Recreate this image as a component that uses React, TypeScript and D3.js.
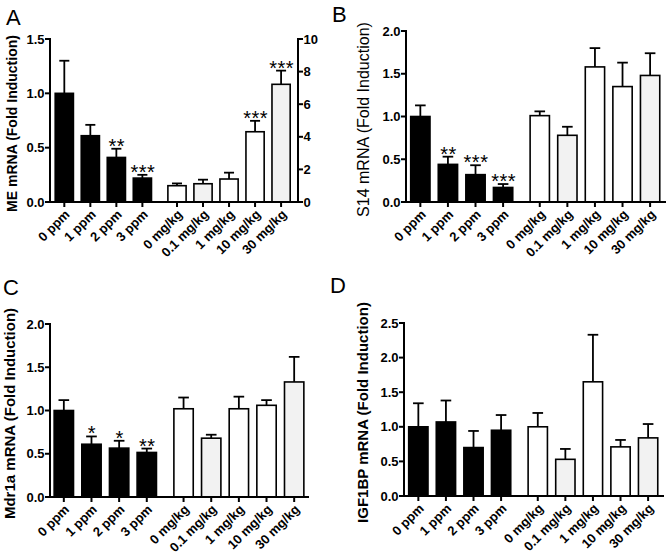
import React from "react";
import * as d3 from "d3";

const categories = ["0 ppm", "1 ppm", "2 ppm", "3 ppm", "0 mg/kg", "0.1 mg/kg", "1 mg/kg", "10 mg/kg", "30 mg/kg"];
const fillKinds = ["black", "black", "black", "black", "white", "gray", "white", "white", "gray"];

// Panel A (ppm on left axis, mg/kg on right axis)
const meMean = [1.0, 0.61, 0.41, 0.22, 1.0, 1.12, 1.41, 4.31, 7.22];
const meErr = [1.30, 0.71, 0.49, 0.25, 1.14, 1.37, 1.80, 4.98, 8.06];
const meStars = ["", "", "**", "***", "", "", "", "***", "***"];
const meLeftTicks = [0, 0.5, 1.0, 1.5];
const meRightTicks = [0, 2, 4, 6, 8, 10];

// Panel B
const s14Mean = [1.0, 0.44, 0.32, 0.17, 1.01, 0.78, 1.58, 1.35, 1.48];
const s14Err = [1.13, 0.53, 0.43, 0.21, 1.06, 0.88, 1.80, 1.63, 1.74];
const s14Stars = ["", "**", "***", "***", "", "", "", "", ""];
const s14Ticks = [0, 0.5, 1.0, 1.5, 2.0];

// Panel C
const mdrMean = [1.0, 0.61, 0.565, 0.515, 1.02, 0.68, 1.02, 1.06, 1.33];
const mdrErr = [1.12, 0.70, 0.65, 0.56, 1.15, 0.72, 1.16, 1.12, 1.62];
const mdrStars = ["", "*", "*", "**", "", "", "", "", ""];
const mdrTicks = [0, 0.5, 1.0, 1.5, 2.0];

// Panel D
const igfMean = [1.0, 1.07, 0.70, 0.95, 1.0, 0.53, 1.65, 0.71, 0.84];
const igfErr = [1.34, 1.38, 0.94, 1.17, 1.20, 0.68, 2.33, 0.81, 1.04];
const igfStars = ["", "", "", "", "", "", "", "", ""];
const igfTicks = [0, 0.5, 1.0, 1.5, 2.0, 2.5];

const FONT = "'Liberation Sans', Arial, Helvetica, sans-serif";
const GAP = 0.33;
const fillColor = (k: string) => (k === "black" ? "#000" : k === "gray" ? "#f2f2f2" : "#fff");
const slot = (i: number) => i + (i >= 4 ? GAP : 0);

type PanelProps = {
  letter: string;
  letterX: number;
  letterY: number;
  title: string;
  titleX: number;
  titleSize: number;
  titleWeight: string;
  x0: number;
  x1: number;
  yTop: number;
  yBottom: number;
  domLeft: number;
  domRight: number;
  yMax: number;
  ticks: number[];
  mean: number[];
  err: number[];
  stars: string[];
  rightMax?: number;
  rightTicks?: number[];
};

function Panel(p: PanelProps) {
  const x = d3.scaleLinear().domain([-p.domLeft, slot(8) + p.domRight]).range([p.x0, p.x1]);
  const y = d3.scaleLinear().domain([0, p.yMax]).range([p.yBottom, p.yTop]);
  const yR = p.rightMax ? d3.scaleLinear().domain([0, p.rightMax]).range([p.yBottom, p.yTop]) : null;
  const pitch = x(1) - x(0);
  const bw = pitch * 0.7;
  const cap = bw * 0.55;
  const fmt = d3.format(".1f");
  return (
    <g fontFamily={FONT}>
      <text x={p.letterX} y={p.letterY} fontSize={22} fill="#000">{p.letter}</text>
      <text
        transform={`translate(${p.titleX},${(p.yTop + p.yBottom) / 2 + 3}) rotate(-90)`}
        textAnchor="middle"
        dominantBaseline="central"
        fontSize={p.titleSize}
        fontWeight={p.titleWeight}
      >
        {p.title}
      </text>
      {categories.map((c, i) => {
        const sc = yR && i >= 4 ? yR : y;
        const cx = x(slot(i));
        const top = sc(p.mean[i]);
        const et = sc(p.err[i]);
        return (
          <g key={c}>
            <line x1={cx} x2={cx} y1={top} y2={et} stroke="#000" strokeWidth={1.8} />
            <line x1={cx - cap / 2} x2={cx + cap / 2} y1={et} y2={et} stroke="#000" strokeWidth={1.8} />
            <rect
              x={cx - bw / 2}
              y={top}
              width={bw}
              height={p.yBottom - top}
              fill={fillColor(fillKinds[i])}
              stroke="#000"
              strokeWidth={1.6}
            />
            {p.stars[i] ? (
              <text x={cx + 0.5} y={et + 4} textAnchor="middle" fontSize={20} letterSpacing={0.5}>
                {p.stars[i]}
              </text>
            ) : null}
          </g>
        );
      })}
      {/* left axis */}
      <line x1={p.x0} x2={p.x0} y1={p.yTop - 1} y2={p.yBottom + 1} stroke="#000" strokeWidth={2} />
      {p.ticks.map((t) => (
        <g key={"l" + t}>
          <line x1={p.x0 - 5} x2={p.x0} y1={y(t)} y2={y(t)} stroke="#000" strokeWidth={2} />
          <text x={p.x0 - 5.5} y={y(t)} dy="0.36em" textAnchor="end" fontSize={13} fontWeight="bold">
            {fmt(t)}
          </text>
        </g>
      ))}
      {yR && p.rightTicks ? (
        <g>
          <line x1={p.x1} x2={p.x1} y1={p.yTop - 1} y2={p.yBottom + 1} stroke="#000" strokeWidth={2} />
          {p.rightTicks.map((t) => (
            <g key={"r" + t}>
              <line x1={p.x1} x2={p.x1 + 5} y1={yR(t)} y2={yR(t)} stroke="#000" strokeWidth={2} />
              <text x={p.x1 + 5.5} y={yR(t)} dy="0.36em" textAnchor="start" fontSize={13} fontWeight="bold">
                {t}
              </text>
            </g>
          ))}
        </g>
      ) : null}
      {/* x axis */}
      <line x1={p.x0 - 1} x2={p.x1 + 1} y1={p.yBottom} y2={p.yBottom} stroke="#000" strokeWidth={2} />
      {categories.map((c, i) => {
        const cx = x(slot(i));
        return (
          <g key={"x" + c}>
            <line x1={cx} x2={cx} y1={p.yBottom} y2={p.yBottom + 5} stroke="#000" strokeWidth={2} />
            <text
              transform={`translate(${cx + 3},${p.yBottom + 10}) rotate(-45)`}
              textAnchor="end"
              dy="0.35em"
              fontSize={13}
              fontWeight="bold"
            >
              {c}
            </text>
          </g>
        );
      })}
    </g>
  );
}

export default function App() {
  return (
    <svg
      width={667}
      height={555}
      style={{ position: "absolute", left: 0, top: 0, display: "block", background: "#fff" }}
    >
      <rect x={0} y={0} width={667} height={555} fill="#fff" />
      <Panel
        letter="A" letterX={6} letterY={25}
        title="ME mRNA (Fold Induction)" titleX={12} titleSize={14} titleWeight="bold"
        x0={50} x1={298} yTop={39} yBottom={202} domLeft={0.55} domRight={0.65}
        yMax={1.5} ticks={meLeftTicks} mean={meMean} err={meErr} stars={meStars}
        rightMax={10} rightTicks={meRightTicks}
      />
      <Panel
        letter="B" letterX={332} letterY={22}
        title="S14 mRNA (Fold Induction)" titleX={363} titleSize={16} titleWeight="normal"
        x0={406} x1={665} yTop={31} yBottom={202} domLeft={0.52} domRight={0.54}
        yMax={2.0} ticks={s14Ticks} mean={s14Mean} err={s14Err} stars={s14Stars}
      />
      <Panel
        letter="C" letterX={3} letterY={295}
        title="Mdr1a mRNA (Fold Induction)" titleX={9} titleSize={15} titleWeight="bold"
        x0={50} x1={308} yTop={324} yBottom={497} domLeft={0.5} domRight={0.5}
        yMax={2.0} ticks={mdrTicks} mean={mdrMean} err={mdrErr} stars={mdrStars}
      />
      <Panel
        letter="D" letterX={330} letterY={293}
        title="IGF1BP mRNA (Fold Induction)" titleX={362} titleSize={15} titleWeight="bold"
        x0={404} x1={663} yTop={323} yBottom={496} domLeft={0.52} domRight={0.54}
        yMax={2.5} ticks={igfTicks} mean={igfMean} err={igfErr} stars={igfStars}
      />
    </svg>
  );
}
